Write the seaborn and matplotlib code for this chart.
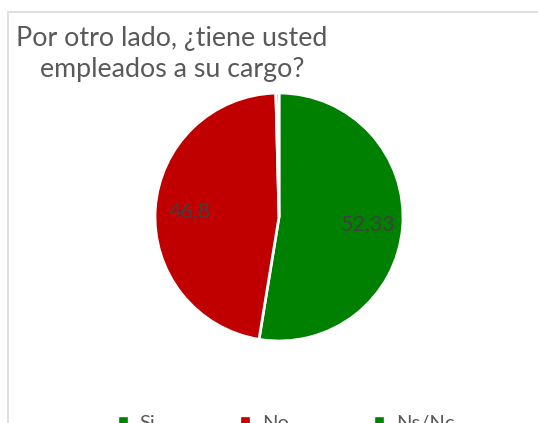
import matplotlib
matplotlib.use("Agg")
import matplotlib.pyplot as plt
from matplotlib.patches import Rectangle
import seaborn as sns

categories = ["Si", "No", "Ns/Nc"]
values = [52.33, 46.8, 0.4]
value_labels = ["52,33", "46,8", ""]
colors = ["#008000", "#C00000", "#008000"]
title_lines = ["Por otro lado, ¿tiene usted", "empleados a su cargo?"]

sns.set_theme(style="white")
plt.rcParams["font.family"] = ["Lato", "DejaVu Sans"]
text_color = "#595959"

W, H = 538, 423
fig = plt.figure(figsize=(W / 100, H / 100), dpi=100)

# chart border (runs off the right and bottom edges)
fig.patches.append(Rectangle((8 / W, -0.2), 1.0, (H - 12) / H + 0.2,
                             transform=fig.transFigure, fill=False,
                             edgecolor="#d9d9d9", linewidth=1.2))

cx, cy, r = 279, 217, 124
ax = fig.add_axes([(cx - r) / W, (H - cy - r) / H, 2 * r / W, 2 * r / H])

label_iter = iter(value_labels)
wedges, _, autotexts = ax.pie(
    values,
    colors=colors,
    startangle=90,
    counterclock=False,
    autopct=lambda p: next(label_iter),
    pctdistance=0.72,
    wedgeprops={"edgecolor": "white", "linewidth": 2},
    textprops={"color": "#404040", "fontsize": 15.5},
)
ax.set_xlim(-1, 1)
ax.set_ylim(-1, 1)
ax.set_aspect("equal")
ax.axis("off")

for i, line in enumerate(title_lines):
    fig.text(172 / W, 1 - (46 + 31 * i) / H, line, ha="center", va="baseline",
             fontsize=19.3, color=text_color)

handles = [Rectangle((0, 0), 1, 1, facecolor=c) for c in colors]
fig.legend(handles, categories, loc="center", bbox_to_anchor=(286 / W, 1 - 423 / H),
           ncol=3, frameon=False, fontsize=14.5, labelcolor=text_color,
           handlelength=0.5, handleheight=0.5, handletextpad=0.6, columnspacing=4.2)

fig.savefig("out.png", dpi=100)
